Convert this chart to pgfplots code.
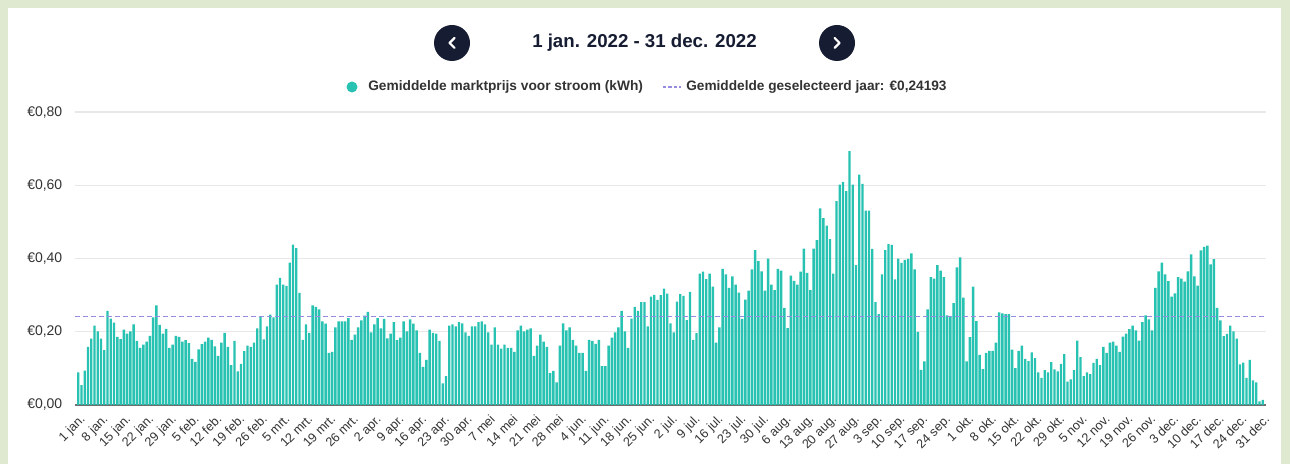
\documentclass[border=0pt]{standalone}
\usepackage{pgfplots}
\pgfplotsset{compat=1.18}
\usepackage{fontspec}
\setmainfont{Liberation Sans}
\definecolor{bggreen}{RGB}{223,233,207}
\definecolor{navy}{RGB}{22,28,50}
\definecolor{barteal}{RGB}{40,194,178}
\definecolor{lav}{RGB}{150,140,225}
\definecolor{gridc}{RGB}{232,232,232}
\definecolor{basec}{RGB}{110,110,110}
\definecolor{txt}{RGB}{51,51,51}
\begin{document}
\begin{tikzpicture}
\begin{scope}[x=0.75pt,y=0.75pt]
\useasboundingbox (0,0) rectangle (1290,464);
\fill[bggreen] (0,0) rectangle (1290,464);
\fill[white] (8,0) rectangle (1281,456);
\fill[navy] (452,421) circle (18);
\draw[white, line width=1.6pt, line cap=round, line join=round] (454.5,426) -- (449.5,421) -- (454.5,416);
\fill[navy] (837,421) circle (18);
\draw[white, line width=1.6pt, line cap=round, line join=round] (834.5,426) -- (839.5,421) -- (834.5,416);
\node[anchor=center, inner sep=0, text=navy, font=\bfseries\fontsize{14}{16}\selectfont] at (644.5,421) {1 jan. 2022 - 31 dec. 2022};
\fill[barteal] (352,377) circle (5.5);
\node[anchor=west, inner sep=0, text=txt, font=\bfseries\fontsize{10.3}{12}\selectfont] at (368,377) {Gemiddelde marktprijs voor stroom (kWh)};
\draw[lav, line width=1pt, dash pattern=on 2.5pt off 1.5pt] (663,377) -- (681,377);
\node[anchor=west, inner sep=0, text=txt, font=\bfseries\fontsize{10.25}{12}\selectfont] at (686,377) {Gemiddelde geselecteerd jaar: €0,24193};
\end{scope}
\begin{axis}[
  at={(56.25pt,44.25pt)}, anchor=south west,
  scale only axis, width=893.25pt, height=219.75pt,
  xmin=0, xmax=366, ymin=0, ymax=0.8,
  axis x line=bottom, axis y line=left,
  axis line style={-},
  x axis line style={draw=basec, line width=1.1pt},
  y axis line style={draw=none},
  ytick={0,0.2,0.4,0.6,0.8},
  yticklabels={{€0,00},{€0,20},{€0,40},{€0,60},{€0,80}},
  ymajorgrids, grid style={draw=gridc, line width=0.8pt},
  major tick length=0pt,
  yticklabel style={font=\fontsize{10.5}{12}\selectfont, text=txt, xshift=-6pt},
  xtick={1,8,15,22,29,36,43,50,57,64,71,78,85,92,99,106,113,120,127,134,141,148,155,162,169,176,183,190,197,204,211,218,225,232,239,246,253,260,267,274,281,288,295,302,309,316,323,330,337,344,351,358,365},
  xticklabels={1 jan.,8 jan.,15 jan.,22 jan.,29 jan.,5 feb.,12 feb.,19 feb.,26 feb.,5 mrt.,12 mrt.,19 mrt.,26 mrt.,2 apr.,9 apr.,16 apr.,23 apr.,30 apr.,7 mei,14 mei,21 mei,28 mei,4 jun.,11 jun.,18 jun.,25 jun.,2 jul.,9 jul.,16 jul.,23 jul.,30 jul.,6 aug.,13 aug.,20 aug.,27 aug.,3 sep.,10 sep.,17 sep.,24 sep.,1 okt.,8 okt.,15 okt.,22 okt.,29 okt.,5 nov.,12 nov.,19 nov.,26 nov.,3 dec.,10 dec.,17 dec.,24 dec.,31 dec.},
  xticklabel style={font=\fontsize{9.5}{11}\selectfont, text=txt, rotate=45, anchor=north east, inner sep=1pt, xshift=-3pt, yshift=-4pt},
  clip=false,
]
\addplot[ybar, bar width=1.8pt, fill=barteal, draw=none] coordinates {
(1,0.089)(2,0.054)(3,0.094)(4,0.159)(5,0.181)(6,0.217)(7,0.201)(8,0.181)(9,0.150)(10,0.257)
(11,0.236)(12,0.225)(13,0.186)(14,0.180)(15,0.206)(16,0.195)(17,0.201)(18,0.220)(19,0.175)(20,0.156)
(21,0.165)(22,0.173)(23,0.189)(24,0.239)(25,0.272)(26,0.219)(27,0.195)(28,0.208)(29,0.156)(30,0.165)
(31,0.189)(32,0.186)(33,0.173)(34,0.177)(35,0.169)(36,0.126)(37,0.118)(38,0.152)(39,0.166)(40,0.173)
(41,0.184)(42,0.178)(43,0.160)(44,0.134)(45,0.170)(46,0.197)(47,0.159)(48,0.109)(49,0.175)(50,0.092)
(51,0.112)(52,0.147)(53,0.162)(54,0.159)(55,0.170)(56,0.209)(57,0.242)(58,0.179)(59,0.215)(60,0.247)
(61,0.239)(62,0.329)(63,0.347)(64,0.329)(65,0.325)(66,0.389)(67,0.438)(68,0.428)(69,0.306)(70,0.178)
(71,0.220)(72,0.197)(73,0.272)(74,0.268)(75,0.261)(76,0.228)(77,0.222)(78,0.142)(79,0.145)(80,0.212)
(81,0.228)(82,0.228)(83,0.228)(84,0.237)(85,0.178)(86,0.192)(87,0.212)(88,0.231)(89,0.244)(90,0.254)
(91,0.198)(92,0.220)(93,0.237)(94,0.209)(95,0.235)(96,0.182)(97,0.195)(98,0.226)(99,0.177)(100,0.184)
(101,0.228)(102,0.201)(103,0.234)(104,0.222)(105,0.204)(106,0.142)(107,0.104)(108,0.123)(109,0.206)(110,0.197)
(111,0.195)(112,0.175)(113,0.059)(114,0.079)(115,0.217)(116,0.220)(117,0.215)(118,0.226)(119,0.223)(120,0.198)
(121,0.189)(122,0.215)(123,0.215)(124,0.226)(125,0.228)(126,0.220)(127,0.198)(128,0.165)(129,0.212)(130,0.165)
(131,0.154)(132,0.165)(133,0.156)(134,0.156)(135,0.145)(136,0.204)(137,0.217)(138,0.201)(139,0.206)(140,0.209)
(141,0.134)(142,0.162)(143,0.192)(144,0.173)(145,0.159)(146,0.087)(147,0.093)(148,0.062)(149,0.162)(150,0.223)
(151,0.204)(152,0.212)(153,0.178)(154,0.162)(155,0.142)(156,0.142)(157,0.093)(158,0.178)(159,0.175)(160,0.167)
(161,0.178)(162,0.106)(163,0.106)(164,0.162)(165,0.184)(166,0.198)(167,0.212)(168,0.257)(169,0.201)(170,0.156)
(171,0.236)(172,0.268)(173,0.257)(174,0.281)(175,0.281)(176,0.215)(177,0.296)(178,0.301)(179,0.287)(180,0.300)
(181,0.318)(182,0.304)(183,0.223)(184,0.198)(185,0.282)(186,0.303)(187,0.298)(188,0.232)(189,0.309)(190,0.178)
(191,0.196)(192,0.359)(193,0.364)(194,0.344)(195,0.359)(196,0.323)(197,0.170)(198,0.212)(199,0.372)(200,0.357)
(201,0.320)(202,0.351)(203,0.329)(204,0.307)(205,0.235)(206,0.288)(207,0.312)(208,0.370)(209,0.423)(210,0.393)
(211,0.365)(212,0.312)(213,0.400)(214,0.329)(215,0.314)(216,0.372)(217,0.367)(218,0.265)(219,0.210)(220,0.353)
(221,0.339)(222,0.329)(223,0.364)(224,0.427)(225,0.361)(226,0.314)(227,0.427)(228,0.450)(229,0.537)(230,0.510)
(231,0.490)(232,0.453)(233,0.359)(234,0.557)(235,0.602)(236,0.609)(237,0.584)(238,0.693)(239,0.602)(240,0.382)
(241,0.629)(242,0.604)(243,0.531)(244,0.531)(245,0.426)(246,0.281)(247,0.248)(248,0.357)(249,0.423)(250,0.439)
(251,0.437)(252,0.343)(253,0.400)(254,0.388)(255,0.396)(256,0.399)(257,0.414)(258,0.370)(259,0.200)(260,0.096)
(261,0.119)(262,0.261)(263,0.349)(264,0.345)(265,0.382)(266,0.367)(267,0.349)(268,0.245)(269,0.242)(270,0.278)
(271,0.376)(272,0.403)(273,0.293)(274,0.119)(275,0.185)(276,0.323)(277,0.229)(278,0.137)(279,0.098)(280,0.142)
(281,0.148)(282,0.148)(283,0.170)(284,0.253)(285,0.250)(286,0.248)(287,0.248)(288,0.151)(289,0.101)(290,0.148)
(291,0.162)(292,0.126)(293,0.120)(294,0.144)(295,0.128)(296,0.089)(297,0.074)(298,0.095)(299,0.089)(300,0.117)
(301,0.097)(302,0.092)(303,0.112)(304,0.139)(305,0.064)(306,0.070)(307,0.095)(308,0.176)(309,0.131)(310,0.079)
(311,0.089)(312,0.084)(313,0.115)(314,0.126)(315,0.109)(316,0.159)(317,0.142)(318,0.170)(319,0.173)(320,0.162)
(321,0.145)(322,0.187)(323,0.195)(324,0.207)(325,0.217)(326,0.204)(327,0.176)(328,0.226)(329,0.245)(330,0.234)
(331,0.204)(332,0.320)(333,0.365)(334,0.389)(335,0.357)(336,0.338)(337,0.296)(338,0.305)(339,0.349)(340,0.345)
(341,0.337)(342,0.365)(343,0.411)(344,0.351)(345,0.326)(346,0.422)(347,0.432)(348,0.435)(349,0.384)(350,0.398)
(351,0.265)(352,0.231)(353,0.188)(354,0.194)(355,0.217)(356,0.201)(357,0.181)(358,0.111)(359,0.116)(360,0.074)
(361,0.123)(362,0.067)(363,0.062)(364,0.010)(365,0.014)
};
\addplot[lav, line width=1pt, dash pattern=on 3.5pt off 2.5pt] coordinates {(0,0.24193)(366,0.24193)};
\end{axis}
\end{tikzpicture}
\end{document}
